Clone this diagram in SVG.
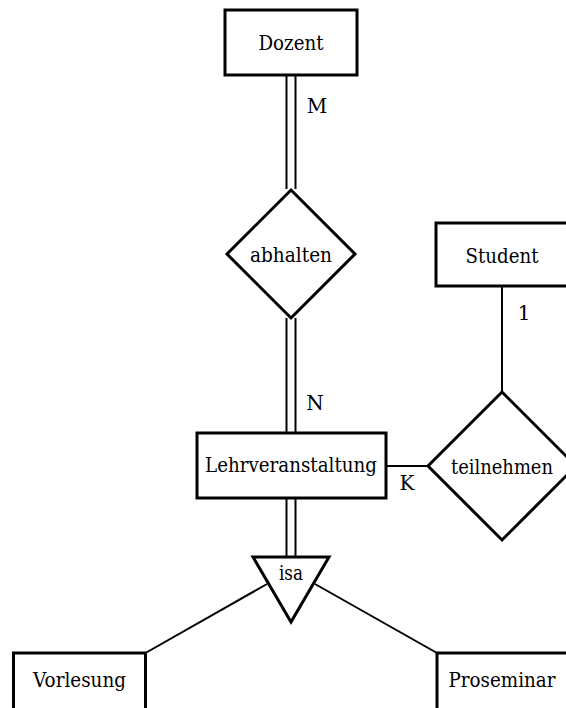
<svg xmlns="http://www.w3.org/2000/svg" width="566" height="708" viewBox="0 0 566 708">
<style>
.box{fill:#fff;stroke:#000;stroke-width:3;stroke-linejoin:miter}
.ln{fill:none;stroke:#000;stroke-width:2}
.dl{fill:none;stroke:#000;stroke-width:2}
text{font-family:"DejaVu Serif","Liberation Serif",serif;font-size:20px;fill:#000;text-anchor:middle;dominant-baseline:central}
</style>
<rect width="566" height="708" fill="#fff"/>
<g id="connectors">
<line class="dl" x1="286.5" y1="75" x2="286.5" y2="189"/>
<line class="dl" x1="295.5" y1="75" x2="295.5" y2="189"/>
<line class="dl" x1="286.5" y1="318" x2="286.5" y2="433"/>
<line class="dl" x1="295.5" y1="318" x2="295.5" y2="433"/>
<line class="dl" x1="286.5" y1="498" x2="286.5" y2="557"/>
<line class="dl" x1="295.5" y1="498" x2="295.5" y2="557"/>
<line class="ln" x1="386" y1="466" x2="428" y2="466"/>
<line class="ln" x1="502" y1="286" x2="502" y2="392"/>
<line class="ln" x1="267" y1="584" x2="145.5" y2="653"/>
<line class="ln" x1="315" y1="584" x2="437" y2="653"/>
<text x="317" y="106">M</text>
<text x="315" y="403">N</text>
<text x="407" y="483">K</text>
<text x="524" y="313">1</text>
</g>
<g id="Dozent">
<rect class="box" x="225" y="10" width="132" height="65"/>
<text x="291" y="43" textLength="65" lengthAdjust="spacingAndGlyphs">Dozent</text>
</g>
<g id="abhalten">
<polygon class="box" points="291,190 355,254 291,318 227,254"/>
<text x="291" y="255" textLength="82" lengthAdjust="spacingAndGlyphs">abhalten</text>
</g>
<g id="Student">
<rect class="box" x="436" y="223" width="134" height="63"/>
<text x="502" y="256" textLength="73" lengthAdjust="spacingAndGlyphs">Student</text>
</g>
<g id="Lehrveranstaltung">
<rect class="box" x="197" y="433" width="189" height="65"/>
<text x="291" y="465" textLength="172" lengthAdjust="spacingAndGlyphs">Lehrveranstaltung</text>
</g>
<g id="teilnehmen">
<polygon class="box" points="502,392 576,466 502,540 428,466"/>
<text x="502" y="467" textLength="102" lengthAdjust="spacingAndGlyphs">teilnehmen</text>
</g>
<g id="isa">
<polygon class="box" points="253,557 329,557 291,622"/>
<text x="291" y="573" textLength="24" lengthAdjust="spacingAndGlyphs">isa</text>
</g>
<g id="Vorlesung">
<rect class="box" x="13.5" y="653" width="132" height="70"/>
<text x="79.5" y="680" textLength="93" lengthAdjust="spacingAndGlyphs">Vorlesung</text>
</g>
<g id="Proseminar">
<rect class="box" x="437" y="653" width="134" height="70"/>
<text x="502" y="680" textLength="107" lengthAdjust="spacingAndGlyphs">Proseminar</text>
</g>
</svg>
